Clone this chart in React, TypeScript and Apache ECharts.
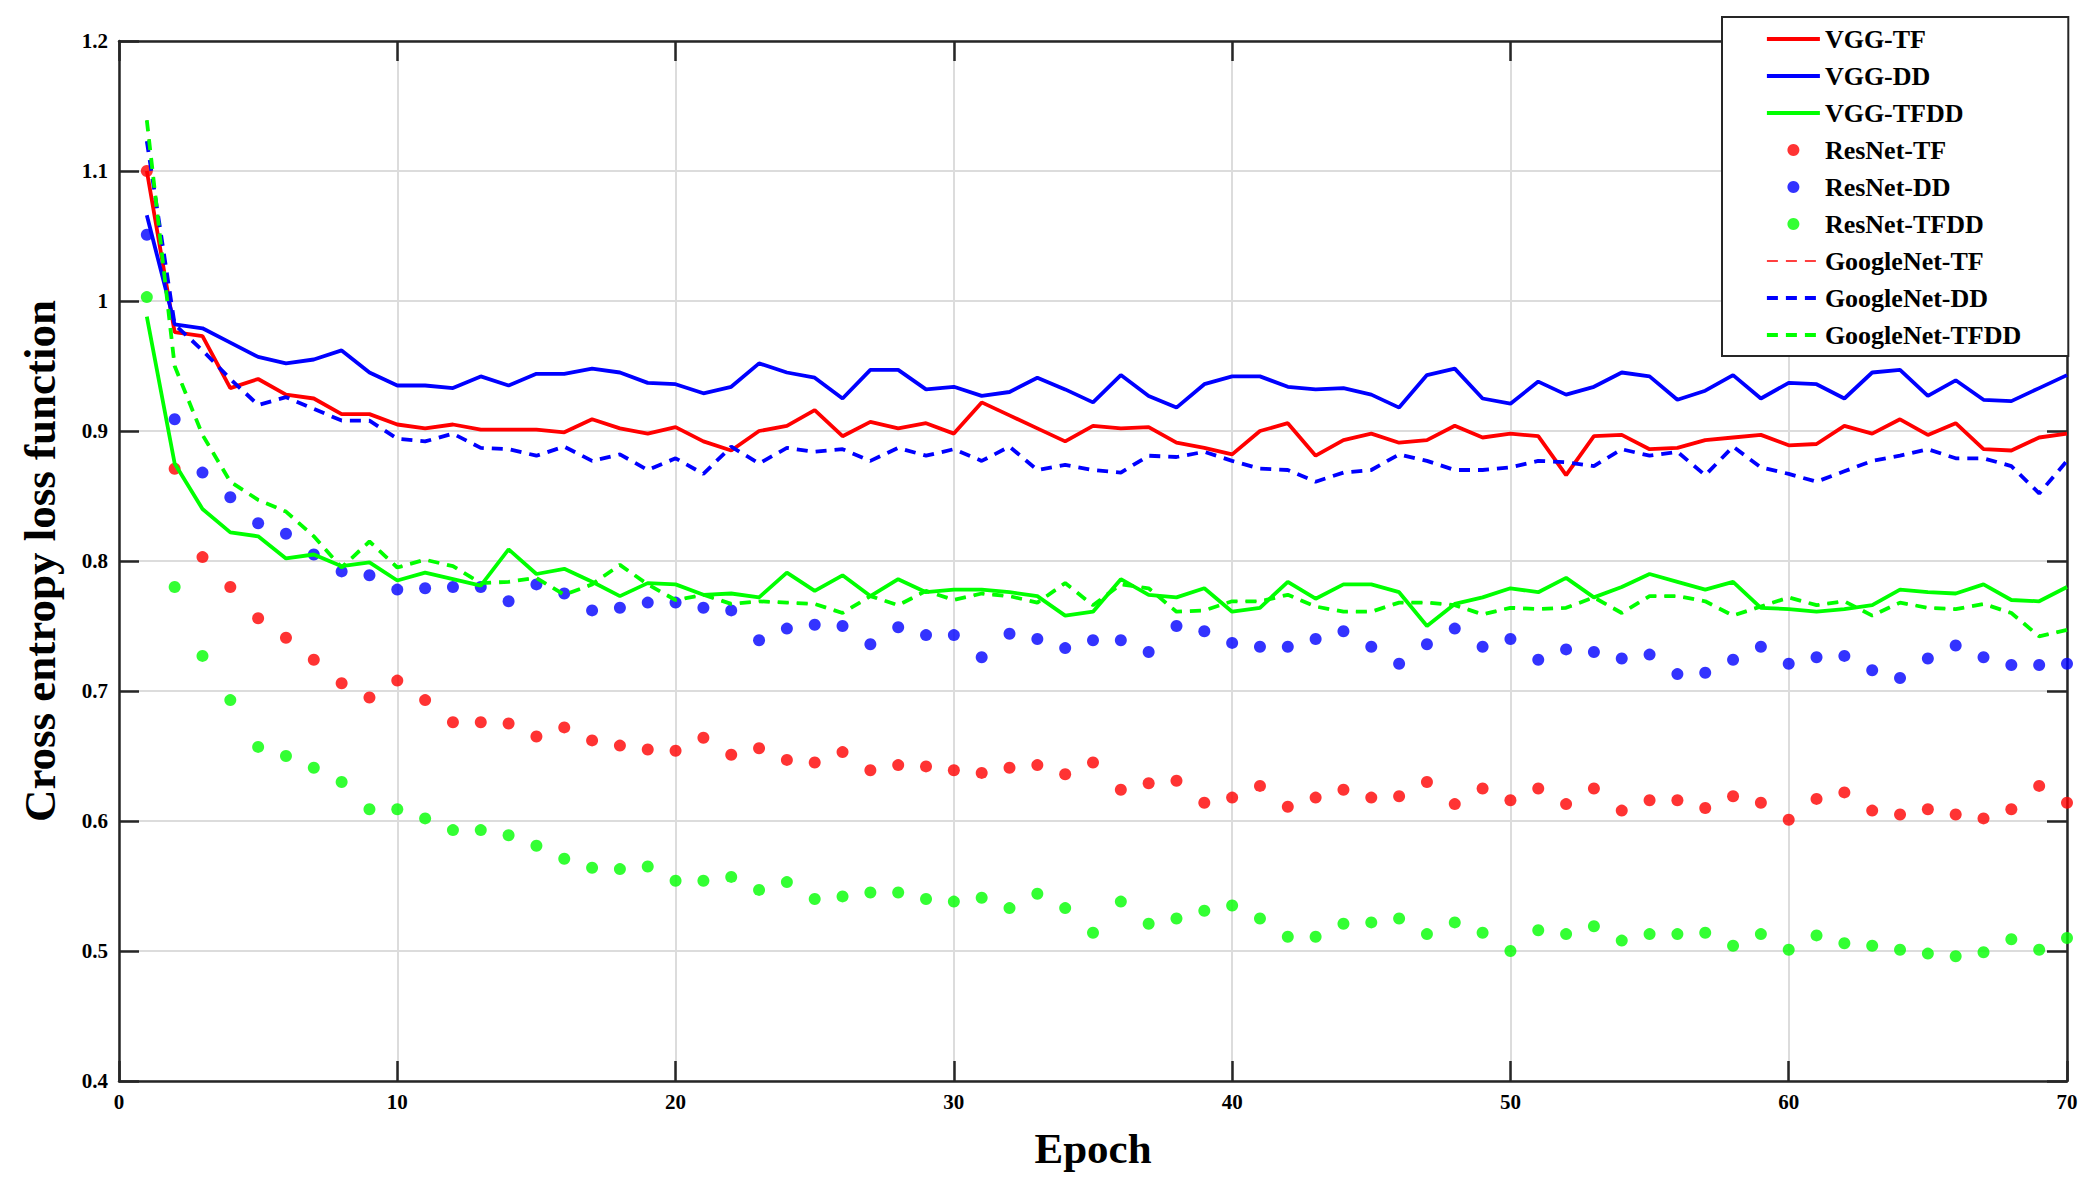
import React, { useEffect, useRef } from "react";
import * as echarts from "echarts";

const epochs = [1, 2, 3, 4, 5, 6, 7, 8, 9, 10, 11, 12, 13, 14, 15, 16, 17, 18, 19, 20, 21, 22, 23, 24, 25, 26, 27, 28, 29, 30, 31, 32, 33, 34, 35, 36, 37, 38, 39, 40, 41, 42, 43, 44, 45, 46, 47, 48, 49, 50, 51, 52, 53, 54, 55, 56, 57, 58, 59, 60, 61, 62, 63, 64, 65, 66, 67, 68, 69, 70];

const vggTF = [1.100, 0.976, 0.973, 0.933, 0.940, 0.928, 0.925, 0.913, 0.913, 0.905, 0.902, 0.905, 0.901, 0.901, 0.901, 0.899, 0.909, 0.902, 0.898, 0.903, 0.892, 0.885, 0.900, 0.904, 0.916, 0.896, 0.907, 0.902, 0.906, 0.898, 0.922, 0.912, 0.902, 0.892, 0.904, 0.902, 0.903, 0.891, 0.887, 0.882, 0.900, 0.906, 0.881, 0.893, 0.898, 0.891, 0.893, 0.904, 0.895, 0.898, 0.896, 0.866, 0.896, 0.897, 0.886, 0.887, 0.893, 0.895, 0.897, 0.889, 0.890, 0.904, 0.898, 0.909, 0.897, 0.906, 0.886, 0.885, 0.895, 0.898];

const vggDD = [1.066, 0.982, 0.979, 0.968, 0.957, 0.952, 0.955, 0.962, 0.945, 0.935, 0.935, 0.933, 0.942, 0.935, 0.944, 0.944, 0.948, 0.945, 0.937, 0.936, 0.929, 0.934, 0.952, 0.945, 0.941, 0.925, 0.947, 0.947, 0.932, 0.934, 0.927, 0.930, 0.941, 0.932, 0.922, 0.943, 0.927, 0.918, 0.936, 0.942, 0.942, 0.934, 0.932, 0.933, 0.928, 0.918, 0.943, 0.948, 0.925, 0.921, 0.938, 0.928, 0.934, 0.945, 0.942, 0.924, 0.931, 0.943, 0.925, 0.937, 0.936, 0.925, 0.945, 0.947, 0.927, 0.939, 0.924, 0.923, 0.933, 0.943];

const vggTFDD = [0.988, 0.875, 0.840, 0.822, 0.819, 0.802, 0.805, 0.796, 0.799, 0.785, 0.791, 0.786, 0.781, 0.809, 0.790, 0.794, 0.784, 0.773, 0.783, 0.782, 0.774, 0.775, 0.772, 0.791, 0.777, 0.789, 0.773, 0.786, 0.776, 0.778, 0.778, 0.776, 0.773, 0.758, 0.761, 0.786, 0.774, 0.772, 0.779, 0.761, 0.764, 0.784, 0.771, 0.782, 0.782, 0.776, 0.750, 0.767, 0.772, 0.779, 0.776, 0.787, 0.772, 0.780, 0.790, 0.784, 0.778, 0.784, 0.764, 0.763, 0.761, 0.763, 0.766, 0.778, 0.776, 0.775, 0.782, 0.770, 0.769, 0.780];

const resnetTF = [1.100, 0.871, 0.803, 0.780, 0.756, 0.741, 0.724, 0.706, 0.695, 0.708, 0.693, 0.676, 0.676, 0.675, 0.665, 0.672, 0.662, 0.658, 0.655, 0.654, 0.664, 0.651, 0.656, 0.647, 0.645, 0.653, 0.639, 0.643, 0.642, 0.639, 0.637, 0.641, 0.643, 0.636, 0.645, 0.624, 0.629, 0.631, 0.614, 0.618, 0.627, 0.611, 0.618, 0.624, 0.618, 0.619, 0.630, 0.613, 0.625, 0.616, 0.625, 0.613, 0.625, 0.608, 0.616, 0.616, 0.610, 0.619, 0.614, 0.601, 0.617, 0.622, 0.608, 0.605, 0.609, 0.605, 0.602, 0.609, 0.627, 0.614];

const resnetDD = [1.051, 0.909, 0.868, 0.849, 0.829, 0.821, 0.805, 0.792, 0.789, 0.778, 0.779, 0.780, 0.780, 0.769, 0.782, 0.775, 0.762, 0.764, 0.768, 0.768, 0.764, 0.762, 0.739, 0.748, 0.751, 0.750, 0.736, 0.749, 0.743, 0.743, 0.726, 0.744, 0.740, 0.733, 0.739, 0.739, 0.730, 0.750, 0.746, 0.737, 0.734, 0.734, 0.740, 0.746, 0.734, 0.721, 0.736, 0.748, 0.734, 0.740, 0.724, 0.732, 0.730, 0.725, 0.728, 0.713, 0.714, 0.724, 0.734, 0.721, 0.726, 0.727, 0.716, 0.710, 0.725, 0.735, 0.726, 0.720, 0.720, 0.721];

const resnetTFDD = [1.003, 0.780, 0.727, 0.693, 0.657, 0.650, 0.641, 0.630, 0.609, 0.609, 0.602, 0.593, 0.593, 0.589, 0.581, 0.571, 0.564, 0.563, 0.565, 0.554, 0.554, 0.557, 0.547, 0.553, 0.540, 0.542, 0.545, 0.545, 0.540, 0.538, 0.541, 0.533, 0.544, 0.533, 0.514, 0.538, 0.521, 0.525, 0.531, 0.535, 0.525, 0.511, 0.511, 0.521, 0.522, 0.525, 0.513, 0.522, 0.514, 0.500, 0.516, 0.513, 0.519, 0.508, 0.513, 0.513, 0.514, 0.504, 0.513, 0.501, 0.512, 0.506, 0.504, 0.501, 0.498, 0.496, 0.499, 0.509, 0.501, 0.510];

const googleTF = [1.139, 0.950, 0.897, 0.861, 0.847, 0.838, 0.819, 0.795, 0.815, 0.795, 0.801, 0.796, 0.783, 0.784, 0.787, 0.774, 0.782, 0.797, 0.782, 0.770, 0.774, 0.767, 0.769, 0.768, 0.767, 0.760, 0.773, 0.766, 0.777, 0.770, 0.775, 0.773, 0.768, 0.783, 0.766, 0.782, 0.779, 0.761, 0.762, 0.769, 0.769, 0.774, 0.765, 0.761, 0.761, 0.768, 0.768, 0.766, 0.759, 0.764, 0.763, 0.764, 0.772, 0.760, 0.773, 0.773, 0.769, 0.758, 0.765, 0.772, 0.766, 0.769, 0.758, 0.768, 0.764, 0.763, 0.767, 0.760, 0.742, 0.747];

const googleDD = [1.123, 0.982, 0.962, 0.940, 0.920, 0.926, 0.917, 0.908, 0.908, 0.894, 0.892, 0.898, 0.887, 0.886, 0.881, 0.888, 0.877, 0.882, 0.870, 0.879, 0.867, 0.888, 0.875, 0.887, 0.884, 0.886, 0.877, 0.887, 0.881, 0.886, 0.877, 0.888, 0.870, 0.874, 0.870, 0.868, 0.881, 0.880, 0.884, 0.877, 0.871, 0.870, 0.861, 0.868, 0.870, 0.882, 0.877, 0.870, 0.870, 0.872, 0.877, 0.876, 0.873, 0.886, 0.881, 0.884, 0.866, 0.888, 0.872, 0.867, 0.861, 0.869, 0.877, 0.881, 0.886, 0.879, 0.879, 0.873, 0.852, 0.877];

const googleTFDD = [1.139, 0.950, 0.897, 0.861, 0.847, 0.838, 0.819, 0.795, 0.815, 0.795, 0.801, 0.796, 0.783, 0.784, 0.787, 0.774, 0.782, 0.797, 0.782, 0.770, 0.774, 0.767, 0.769, 0.768, 0.767, 0.760, 0.773, 0.766, 0.777, 0.770, 0.775, 0.773, 0.768, 0.783, 0.766, 0.782, 0.779, 0.761, 0.762, 0.769, 0.769, 0.774, 0.765, 0.761, 0.761, 0.768, 0.768, 0.766, 0.759, 0.764, 0.763, 0.764, 0.772, 0.760, 0.773, 0.773, 0.769, 0.758, 0.765, 0.772, 0.766, 0.769, 0.758, 0.768, 0.764, 0.763, 0.767, 0.760, 0.742, 0.747];

const xTicks = { min: 0, max: 70, interval: 10 };
const yTicks = { min: 0.4, max: 1.2, interval: 0.1 };

const RED = "#ff0000";
const BLUE = "#0000ff";
const GREEN = "#00ff00";
const FONT = "'Liberation Serif', 'DejaVu Serif', serif";
const AXIS_COLOR = "#262626";
const DASH = [11, 8];
const LINE_W = 3.8;

const pair = (vals: number[]) => epochs.map((e, i) => [e, vals[i]]);

const lineSeries = (name: string, vals: number[], color: string, dashed: boolean, width: number) => ({
  name,
  type: "line",
  data: pair(vals),
  symbol: "none",
  showSymbol: false,
  lineStyle: { color, width, type: dashed ? DASH : "solid" },
  itemStyle: { color },
  z: 3,
});

const dotSeries = (name: string, vals: number[], color: string) => ({
  name,
  type: "scatter",
  data: pair(vals),
  symbol: "circle",
  symbolSize: 12,
  itemStyle: { color },
  z: 2,
});

const legendLine = (name: string, color: string, dashed: boolean, width: number) => ({
  name,
  itemStyle: { color: "rgba(0,0,0,0)", borderWidth: 0 },
  lineStyle: { color, width, type: dashed ? DASH : "solid" },
});

export default function App() {
  const ref = useRef<HTMLDivElement>(null);
  useEffect(() => {
    if (!ref.current) return;
    const chart = echarts.init(ref.current, null, { renderer: "svg" });
    const axisLine = { show: true, onZero: false, lineStyle: { color: AXIS_COLOR, width: 2.5 } };
    const axisTick = { show: true, inside: true, length: 20, lineStyle: { color: AXIS_COLOR, width: 2.5 } };
    const labelStyle = { color: "#000", fontFamily: FONT, fontWeight: "bold", fontSize: 21 };
    const grid = { show: true, lineStyle: { color: "#dcdcdc", width: 2 } };
    chart.setOption({
      animation: false,
      backgroundColor: "#ffffff",
      grid: { left: 119, top: 41, width: 1948, height: 1040, containLabel: false },
      legend: {
        orient: "vertical",
        left: 1722,
        top: 17,
        padding: [9, 47, 8, 43],
        itemWidth: 53,
        itemHeight: 12,
        itemGap: 11,
        itemTextGap: 5,
        backgroundColor: "#ffffff",
        borderColor: AXIS_COLOR,
        borderWidth: 2,
        borderRadius: 0,
        z: 10,
        textStyle: { color: "#000", fontFamily: FONT, fontWeight: "bold", fontSize: 26 },
        data: [
          legendLine("VGG-TF", RED, false, LINE_W),
          legendLine("VGG-DD", BLUE, false, LINE_W),
          legendLine("VGG-TFDD", GREEN, false, LINE_W),
          "ResNet-TF",
          "ResNet-DD",
          "ResNet-TFDD",
          legendLine("GoogleNet-TF", RED, true, 1.5),
          legendLine("GoogleNet-DD", BLUE, true, LINE_W),
          legendLine("GoogleNet-TFDD", GREEN, true, LINE_W),
        ],
      },
      xAxis: [
        {
          type: "value",
          position: "bottom",
          ...xTicks,
          axisLine,
          axisTick,
          axisLabel: { ...labelStyle, margin: 10 },
          splitLine: grid,
          name: "Epoch",
          nameLocation: "middle",
          nameGap: 46,
          nameTextStyle: { color: "#000", fontFamily: FONT, fontWeight: "bold", fontSize: 43 },
        },
        {
          type: "value",
          position: "top",
          ...xTicks,
          axisLine,
          axisTick,
          axisLabel: { show: false },
          splitLine: { show: false },
        },
      ],
      yAxis: [
        {
          type: "value",
          position: "left",
          ...yTicks,
          axisLine,
          axisTick,
          axisLabel: { ...labelStyle, margin: 11, formatter: (v: number) => String(Math.round(v * 10) / 10) },
          splitLine: grid,
          name: "Cross entropy loss function",
          nameLocation: "middle",
          nameGap: 57,
          nameTextStyle: { color: "#000", fontFamily: FONT, fontWeight: "bold", fontSize: 45 },
        },
        {
          type: "value",
          position: "right",
          ...yTicks,
          axisLine,
          axisTick,
          axisLabel: { show: false },
          splitLine: { show: false },
        },
      ],
      series: [
        lineSeries("VGG-TF", vggTF, RED, false, LINE_W),
        lineSeries("VGG-DD", vggDD, BLUE, false, LINE_W),
        lineSeries("VGG-TFDD", vggTFDD, GREEN, false, LINE_W),
        dotSeries("ResNet-TF", resnetTF, RED),
        dotSeries("ResNet-DD", resnetDD, BLUE),
        dotSeries("ResNet-TFDD", resnetTFDD, GREEN),
        lineSeries("GoogleNet-TF", googleTF, RED, true, 1.5),
        lineSeries("GoogleNet-DD", googleDD, BLUE, true, LINE_W),
        lineSeries("GoogleNet-TFDD", googleTFDD, GREEN, true, LINE_W),
      ],
    });
    return () => chart.dispose();
  }, []);
  return (
    <div
      ref={ref}
      style={{ position: "absolute", left: 0, top: 0, width: 2098, height: 1195, background: "#fff" }}
    />
  );
}
